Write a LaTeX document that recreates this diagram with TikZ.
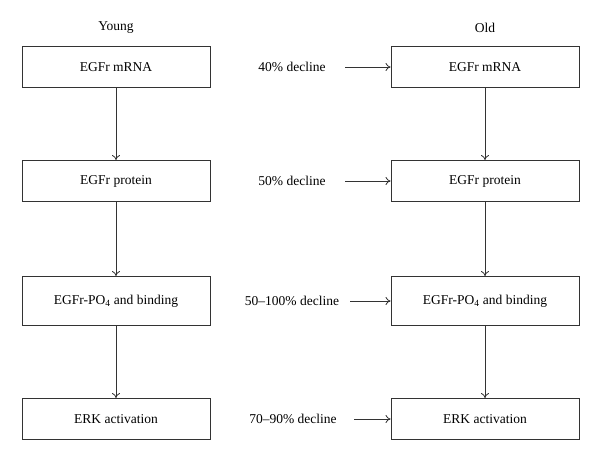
\documentclass[tikz,border=0pt]{standalone}
\usepackage{fontspec}
\setmainfont{Liberation Serif}
\usetikzlibrary{arrows.meta}
\begin{document}
\begin{tikzpicture}[x=1pt,y=-1pt,
  box/.style={draw=black!80,line width=0.9pt,minimum width=188pt,inner sep=0pt,font=\fontsize{13.5}{15}\selectfont},
  lbl/.style={inner sep=0pt,font=\fontsize{13.5}{15}\selectfont},
  conn/.style={draw=black!80,line width=0.8pt,-{To[length=5pt,width=8pt]}}]
\useasboundingbox (0,0) rectangle (600,468);
% column titles
\node[lbl] (young) at (116,28) {Young};
\node[lbl] (old) at (485,28) {Old};
% young column
\node[box,minimum height=41pt] (y1) at (116,67) {EGFr mRNA};
\node[box,minimum height=41pt] (y2) at (116,181) {EGFr protein};
\node[box,minimum height=49pt] (y3) at (116,301) {EGFr-PO\textsubscript{4} and binding};
\node[box,minimum height=41pt] (y4) at (116,419) {ERK activation};
% old column
\node[box,minimum height=41pt] (o1) at (485,67) {EGFr mRNA};
\node[box,minimum height=41pt] (o2) at (485,181) {EGFr protein};
\node[box,minimum height=49pt] (o3) at (485,301) {EGFr-PO\textsubscript{4} and binding};
\node[box,minimum height=41pt] (o4) at (485,419) {ERK activation};
% decline labels
\node[lbl] (d1) at (292,67) {40\% decline};
\node[lbl] (d2) at (292,181) {50\% decline};
\node[lbl] (d3) at (292,301) {50–100\% decline};
\node[lbl] (d4) at (293,419) {70–90\% decline};
\coordinate (s1) at (345,67);
\coordinate (s2) at (345,181);
\coordinate (s3) at (350,301);
\coordinate (s4) at (354,419);
% vertical arrows
\draw[conn] (y1) -- (y2);
\draw[conn] (y2) -- (y3);
\draw[conn] (y3) -- (y4);
\draw[conn] (o1) -- (o2);
\draw[conn] (o2) -- (o3);
\draw[conn] (o3) -- (o4);
% horizontal arrows
\draw[conn] (s1) -- (o1.west);
\draw[conn] (s2) -- (o2.west);
\draw[conn] (s3) -- (o3.west);
\draw[conn] (s4) -- (o4.west);
\end{tikzpicture}
\end{document}
